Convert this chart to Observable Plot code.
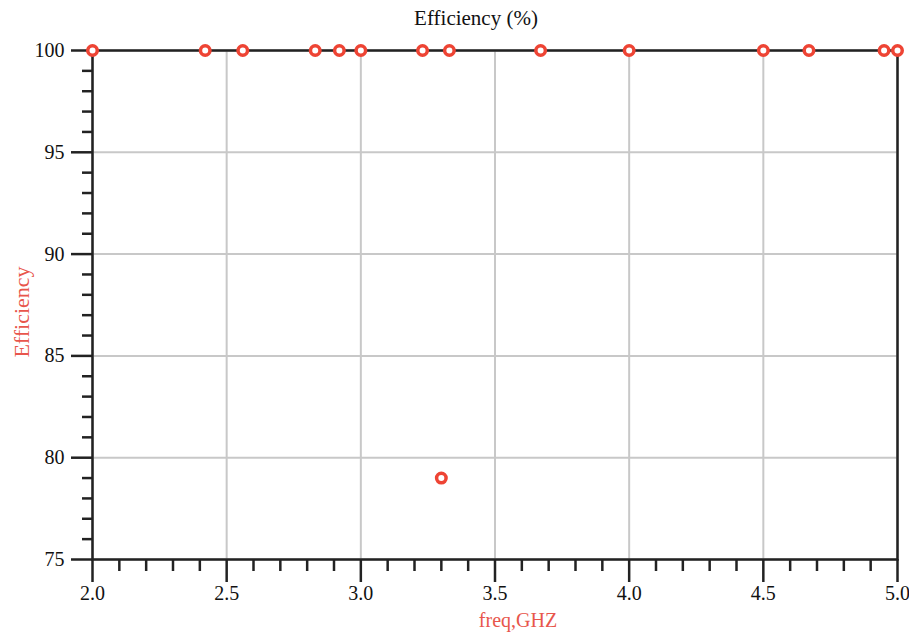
<!DOCTYPE html>
<html>
<head>
<meta charset="utf-8">
<script src="https://cdn.jsdelivr.net/npm/d3@7"></script>
<script src="https://cdn.jsdelivr.net/npm/@observablehq/plot@0.6"></script>
<style>
  html, body { margin: 0; padding: 0; background: #fff; }
  #chart svg { display: block; }
  #chart svg, #chart svg g, #chart svg text { font-family: 'Liberation Serif', 'Times New Roman', Times, serif !important; }
</style>
</head>
<body>
<div id="chart"></div>
<script>
// Data
const freq = [2.0, 2.42, 2.56, 2.83, 2.92, 3.0, 3.23, 3.30, 3.33, 3.67, 4.0, 4.5, 4.67, 4.95, 5.0];
const efficiency = [100, 100, 100, 100, 100, 100, 100, 79, 100, 100, 100, 100, 100, 100, 100];
const xMajorTicks = [2.0, 2.5, 3.0, 3.5, 4.0, 4.5, 5.0];
const yMajorTicks = [75, 80, 85, 90, 95, 100];
const titleText = "Efficiency (%)";
const xLabel = "freq,GHZ";
const yLabel = "Efficiency";

const xMinorTicks = d3.range(20, 51).map(v => v / 10).filter(v => Math.round(v * 10) % 5 !== 0);
const yMinorTicks = d3.range(75, 101).filter(v => v % 5 !== 0);

const data = freq.map((f, i) => ({freq: f, eff: efficiency[i]}));

const serif = "'Liberation Serif', 'Times New Roman', Times, serif";
const axisColor = "#222";
const red = "#ee4434";
const labelRed = "#e8564c";

const chart = Plot.plot({
  width: 909,
  height: 637,
  marginLeft: 92,
  marginRight: 12,
  marginTop: 50,
  marginBottom: 78,
  style: {color: "#111", background: "#fff", fontFamily: serif},
  x: {domain: [2, 5], axis: null},
  y: {domain: [75, 100], axis: null},
  marks: [
    Plot.gridX(xMajorTicks, {stroke: "#c8c8c8", strokeOpacity: 1, strokeWidth: 2}),
    Plot.gridY(yMajorTicks, {stroke: "#c8c8c8", strokeOpacity: 1, strokeWidth: 2}),
    Plot.axisX({ticks: xMinorTicks, tickSize: 12, strokeWidth: 2.5, stroke: axisColor, tickFormat: () => "", label: null}),
    Plot.axisY({ticks: yMinorTicks, tickSize: 10, strokeWidth: 2.5, stroke: axisColor, tickFormat: () => "", label: null}),
    Plot.axisX({ticks: xMajorTicks, tickSize: 23, tickPadding: 3, strokeWidth: 2.5, stroke: axisColor,
      tickFormat: d3.format(".1f"), fontSize: 20, fontFamily: serif, label: null}),
    Plot.axisY({ticks: yMajorTicks, tickSize: 21, tickPadding: 7, strokeWidth: 2.5, stroke: axisColor,
      tickFormat: d3.format("d"), fontSize: 20, fontFamily: serif, label: null}),
    Plot.frame({stroke: axisColor, strokeWidth: 2.5}),
    Plot.dot(data, {x: "freq", y: "eff", r: 4.75, stroke: red, strokeWidth: 3.5, fill: "white", clip: false}),
    Plot.text([titleText], {frameAnchor: "top", lineAnchor: "middle", textAnchor: "middle", dx: -19, dy: -32, fontSize: 21, fontFamily: serif, fill: "#111"}),
    Plot.text([xLabel], {frameAnchor: "bottom", lineAnchor: "middle", textAnchor: "middle", dx: 23, dy: 61, fontSize: 20, fontFamily: serif, fill: labelRed}),
    Plot.text([yLabel], {frameAnchor: "left", lineAnchor: "middle", textAnchor: "middle", dx: -71, dy: 7, rotate: -90, fontSize: 22, fontFamily: serif, fill: labelRed})
  ]
});
document.getElementById("chart").appendChild(chart);
</script>
</body>
</html>
